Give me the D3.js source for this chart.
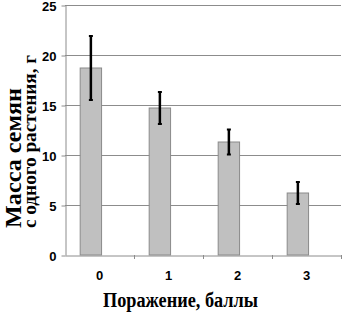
<!DOCTYPE html>
<html>
<head>
<meta charset="utf-8">
<script src="https://cdn.jsdelivr.net/npm/d3@7"></script>
<style>
  body { margin: 0; background: white; }
  svg { display: block; }
</style>
</head>
<body>
<div id="chart"></div>
<script>
// Seed mass per plant by damage score
const categories = ['0', '1', '2', '3'];
const means = [18.7, 14.7, 11.3, 6.2];
const errors = [3.2, 1.6, 1.25, 1.1];
const yTicks = [0, 5, 10, 15, 20, 25];

const width = 342, height = 312;
const margin = {top: 5, right: 1, bottom: 57, left: 65};

const svg = d3.select('#chart').append('svg')
    .attr('width', width)
    .attr('height', height);

const x = d3.scaleBand()
    .domain(categories)
    .range([margin.left, width - margin.right]);

const y = d3.scaleLinear()
    .domain([0, 25])
    .range([height - margin.bottom, margin.top]);

// gridlines
svg.append('g')
    .selectAll('line')
    .data(yTicks.slice(1))
    .join('line')
    .attr('x1', margin.left)
    .attr('x2', width - margin.right)
    .attr('y1', d => y(d) + 0.5)
    .attr('y2', d => y(d) + 0.5)
    .attr('stroke', '#8c8c8c')
    .attr('stroke-width', 1);

// y axis
const yAxis = svg.append('g')
    .attr('transform', `translate(${margin.left + 0.5},0)`)
    .call(d3.axisLeft(y).tickValues(yTicks).tickSize(4).tickSizeOuter(0));
yAxis.select('.domain').attr('stroke', '#8c8c8c');
yAxis.selectAll('.tick line').attr('stroke', '#8c8c8c').attr('transform', 'translate(0,0.5)');
yAxis.selectAll('.tick text')
    .attr('x', -9)
    .attr('dy', '0.4em')
    .style('font-family', '"Liberation Sans", Arial, sans-serif')
    .style('font-weight', 'bold')
    .style('font-size', '13px')
    .attr('fill', '#000');

// bars (offset left inside the band, like an Excel clustered column)
const barOffset = x.bandwidth() * 0.22;
const barWidth = x.bandwidth() * 0.31;

svg.append('g')
    .selectAll('rect')
    .data(categories)
    .join('rect')
    .attr('x', (d, i) => x(d) + barOffset)
    .attr('y', (d, i) => y(means[i]))
    .attr('width', barWidth)
    .attr('height', (d, i) => y(0) - y(means[i]))
    .attr('fill', '#c0c0c0')
    .attr('stroke', '#8a8a8a')
    .attr('stroke-width', 1);

// x axis
const xAxis = svg.append('g')
    .attr('transform', `translate(0,${y(0) + 0.5})`)
    .call(d3.axisBottom(x).tickSize(0).tickSizeOuter(0));
xAxis.select('.domain').attr('stroke', '#8c8c8c');
xAxis.selectAll('.tick text')
    .attr('y', 15)
    .style('font-family', '"Liberation Sans", Arial, sans-serif')
    .style('font-weight', 'bold')
    .style('font-size', '13px')
    .attr('fill', '#000');
// ticks between categories
svg.append('g')
    .selectAll('line')
    .data(categories)
    .join('line')
    .attr('x1', d => x(d) + x.bandwidth() + 0.5)
    .attr('x2', d => x(d) + x.bandwidth() + 0.5)
    .attr('y1', y(0))
    .attr('y2', y(0) + 4)
    .attr('stroke', '#8c8c8c');

// error bars
const eb = svg.append('g');
categories.forEach((c, i) => {
    const cx = x(c) + barOffset + barWidth / 2;
    eb.append('line')
        .attr('x1', cx).attr('x2', cx)
        .attr('y1', y(means[i] + errors[i]))
        .attr('y2', y(means[i] - errors[i]))
        .attr('stroke', '#000').attr('stroke-width', 2.5);
    [means[i] + errors[i], means[i] - errors[i]].forEach(v => {
        eb.append('line')
            .attr('x1', cx - 2).attr('x2', cx + 2)
            .attr('y1', y(v)).attr('y2', y(v))
            .attr('stroke', '#000').attr('stroke-width', 2);
    });
});

// axis titles (textLength squeezes the serif font to the original's widths)
svg.append('text')
    .attr('x', 103)
    .attr('y', 307)
    .attr('textLength', 155)
    .attr('lengthAdjust', 'spacingAndGlyphs')
    .style('font-family', '"Liberation Serif", "Times New Roman", serif')
    .style('font-weight', 'bold')
    .style('font-size', '20px')
    .text('Поражение, баллы');

const yTitle = svg.append('text')
    .attr('transform', 'translate(0,228) rotate(-90)')
    .style('font-family', '"Liberation Serif", "Times New Roman", serif')
    .style('font-weight', 'bold');
yTitle.append('tspan')
    .attr('x', 0).attr('y', 21)
    .attr('textLength', 140)
    .attr('lengthAdjust', 'spacingAndGlyphs')
    .style('font-size', '24px')
    .text('Масса семян');
yTitle.append('tspan')
    .attr('x', 0).attr('y', 36)
    .attr('textLength', 173)
    .attr('lengthAdjust', 'spacingAndGlyphs')
    .style('font-size', '19px')
    .text('с одного растения, г');
</script>
</body>
</html>
